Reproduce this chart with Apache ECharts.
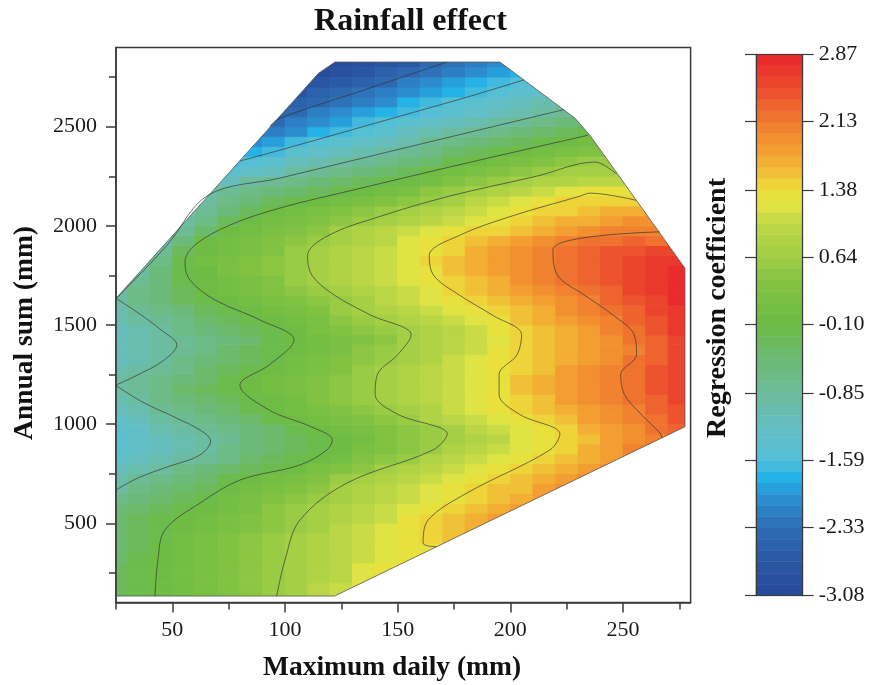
<!DOCTYPE html>
<html><head><meta charset="utf-8">
<script src="https://cdn.jsdelivr.net/npm/echarts@6/dist/echarts.min.js"></script>
<style>html,body{margin:0;padding:0;background:#fff}#c{width:871px;height:685px}</style>
</head><body><div id="c"></div>
<script>
// grid node centres (mm)
const xNodes = [25,35,45,55,65,75,85,95,105,115,125,135,145,155,165,175,185,195,205,215,225,235,245,255,265,275];
const yNodes = [125,175,225,275,325,375,425,475,525,575,625,675,725,775,825,875,925,975,1025,1075,1125,1175,1225,1275,1325,1375,1425,1475,1525,1575,1625,1675,1725,1775,1825,1875,1925,1975,2025,2075,2125,2175,2225,2275,2325,2375,2425,2475,2525,2575,2625,2675,2725,2775,2825];
// first xNode index of each row
const rowStart = [0,0,0,0,0,0,0,0,0,0,0,0,0,0,0,0,0,0,0,0,0,0,0,0,0,0,0,0,0,0,0,0,1,1,1,2,2,3,3,3,4,4,4,5,5,6,6,6,7,7,8,8,8,9,9];
// regression coefficient, one row per yNode
const fieldRows = [
[-0.34,-0.20,-0.06,0.07,0.21,0.35,0.48,0.62,0.76,0.90,1.03],
[-0.34,-0.20,-0.07,0.07,0.21,0.34,0.48,0.61,0.75,0.89,1.02,1.16],
[-0.35,-0.21,-0.07,0.06,0.20,0.34,0.48,0.60,0.74,0.88,1.01,1.15,1.29],
[-0.35,-0.21,-0.08,0.06,0.20,0.33,0.47,0.60,0.73,0.87,1.00,1.14,1.28,1.41],
[-0.36,-0.22,-0.08,0.05,0.18,0.32,0.45,0.58,0.71,0.84,0.97,1.10,1.23,1.35,1.45],
[-0.36,-0.23,-0.10,0.03,0.17,0.30,0.43,0.56,0.68,0.80,0.93,1.05,1.17,1.28,1.38,1.50],
[-0.37,-0.24,-0.11,0.02,0.15,0.27,0.40,0.53,0.66,0.78,0.91,1.04,1.17,1.29,1.42,1.55],
[-0.40,-0.26,-0.13,0.00,0.13,0.25,0.38,0.51,0.63,0.76,0.89,1.03,1.16,1.28,1.41,1.54,1.67],
[-0.47,-0.34,-0.21,-0.07,0.06,0.20,0.33,0.47,0.61,0.74,0.87,1.00,1.13,1.26,1.39,1.52,1.65,1.78],
[-0.58,-0.44,-0.29,-0.15,-0.01,0.12,0.26,0.40,0.53,0.67,0.79,0.92,1.05,1.18,1.30,1.43,1.56,1.69,1.81],
[-0.72,-0.57,-0.42,-0.26,-0.11,0.03,0.17,0.31,0.45,0.59,0.72,0.85,0.97,1.10,1.22,1.35,1.48,1.60,1.73,1.86],
[-0.87,-0.71,-0.55,-0.39,-0.24,-0.08,0.07,0.21,0.36,0.50,0.65,0.77,0.89,1.02,1.14,1.26,1.39,1.51,1.63,1.76,1.88],
[-0.99,-0.84,-0.68,-0.53,-0.37,-0.22,-0.06,0.09,0.24,0.38,0.53,0.67,0.79,0.91,1.04,1.16,1.28,1.40,1.53,1.65,1.77,1.89],
[-1.15,-1.00,-0.86,-0.72,-0.58,-0.45,-0.31,-0.17,-0.02,0.15,0.32,0.49,0.65,0.78,0.91,1.04,1.17,1.30,1.43,1.56,1.69,1.82,1.95],
[-1.31,-1.17,-1.03,-0.89,-0.75,-0.61,-0.47,-0.33,-0.18,-0.03,0.13,0.30,0.47,0.63,0.77,0.91,1.04,1.18,1.31,1.45,1.58,1.72,1.86,1.99],
[-1.40,-1.27,-1.13,-0.99,-0.85,-0.71,-0.57,-0.43,-0.29,-0.16,-0.01,0.15,0.31,0.47,0.62,0.77,0.91,1.05,1.20,1.34,1.50,1.67,1.84,2.01,2.18],
[-1.42,-1.28,-1.14,-1.00,-0.87,-0.73,-0.59,-0.45,-0.31,-0.18,-0.03,0.12,0.27,0.42,0.57,0.71,0.85,1.00,1.15,1.30,1.45,1.62,1.78,1.95,2.11,2.28],
[-1.37,-1.23,-1.09,-0.94,-0.80,-0.65,-0.51,-0.37,-0.22,-0.08,0.06,0.20,0.34,0.48,0.62,0.76,0.91,1.05,1.20,1.34,1.50,1.66,1.82,1.98,2.14,2.34],
[-1.27,-1.12,-0.97,-0.82,-0.67,-0.52,-0.37,-0.22,-0.07,0.07,0.21,0.35,0.49,0.63,0.77,0.91,1.05,1.19,1.33,1.47,1.62,1.76,1.91,2.05,2.22,2.42],
[-1.15,-0.98,-0.83,-0.67,-0.52,-0.37,-0.22,-0.07,0.07,0.20,0.34,0.47,0.61,0.74,0.88,1.02,1.15,1.29,1.42,1.56,1.70,1.84,1.98,2.11,2.30,2.48],
[-0.99,-0.85,-0.71,-0.56,-0.42,-0.28,-0.14,0.00,0.14,0.27,0.41,0.54,0.67,0.81,0.94,1.08,1.21,1.35,1.48,1.62,1.76,1.89,2.03,2.18,2.36,2.54],
[-0.89,-0.75,-0.61,-0.47,-0.33,-0.20,-0.06,0.07,0.19,0.32,0.45,0.58,0.71,0.84,0.98,1.11,1.25,1.38,1.52,1.65,1.79,1.92,2.06,2.22,2.40,2.58],
[-0.93,-0.79,-0.65,-0.50,-0.36,-0.22,-0.08,0.05,0.18,0.31,0.44,0.57,0.70,0.84,0.97,1.11,1.25,1.38,1.52,1.66,1.80,1.93,2.07,2.23,2.41,2.59],
[-1.06,-0.91,-0.76,-0.61,-0.47,-0.32,-0.17,-0.03,0.11,0.25,0.39,0.53,0.67,0.80,0.94,1.08,1.21,1.35,1.49,1.63,1.77,1.91,2.05,2.21,2.41,2.61],
[-1.18,-1.02,-0.87,-0.72,-0.57,-0.41,-0.26,-0.11,0.03,0.17,0.31,0.46,0.60,0.74,0.88,1.02,1.16,1.30,1.44,1.58,1.72,1.86,2.00,2.15,2.37,2.60],
[-1.22,-1.07,-0.92,-0.77,-0.62,-0.47,-0.32,-0.18,-0.03,0.11,0.26,0.40,0.55,0.69,0.83,0.97,1.12,1.26,1.40,1.54,1.69,1.83,1.98,2.12,2.35,2.59],
[-1.19,-1.05,-0.91,-0.78,-0.64,-0.50,-0.36,-0.22,-0.09,0.06,0.21,0.35,0.50,0.65,0.79,0.94,1.09,1.24,1.39,1.53,1.68,1.83,1.98,2.13,2.37,2.61],
[-1.14,-1.00,-0.85,-0.71,-0.56,-0.41,-0.27,-0.12,0.01,0.15,0.28,0.42,0.55,0.69,0.84,0.99,1.13,1.28,1.43,1.57,1.72,1.87,2.02,2.18,2.41,2.63],
[-1.06,-0.91,-0.76,-0.61,-0.46,-0.31,-0.16,-0.02,0.12,0.26,0.40,0.54,0.67,0.81,0.95,1.09,1.24,1.38,1.52,1.66,1.80,1.94,2.09,2.27,2.47,2.67],
[-0.98,-0.82,-0.65,-0.49,-0.33,-0.17,-0.02,0.12,0.25,0.39,0.52,0.65,0.79,0.93,1.06,1.20,1.33,1.47,1.61,1.75,1.89,2.03,2.18,2.36,2.54,2.72],
[-0.87,-0.70,-0.52,-0.35,-0.17,-0.02,0.11,0.24,0.37,0.50,0.63,0.76,0.90,1.03,1.16,1.30,1.43,1.57,1.71,1.84,1.98,2.12,2.27,2.44,2.60,2.76],
[-0.95,-0.72,-0.50,-0.28,-0.07,0.06,0.19,0.32,0.45,0.58,0.71,0.85,0.98,1.12,1.25,1.39,1.52,1.66,1.79,1.93,2.06,2.20,2.35,2.50,2.65,2.80],
[-0.80,-0.50,-0.19,-0.01,0.12,0.25,0.38,0.52,0.65,0.78,0.92,1.06,1.19,1.33,1.46,1.60,1.74,1.88,2.01,2.14,2.28,2.42,2.55,2.69,2.83],
[-0.95,-0.56,-0.16,0.01,0.15,0.28,0.42,0.55,0.69,0.82,0.96,1.10,1.23,1.37,1.51,1.64,1.78,1.92,2.05,2.19,2.32,2.45,2.58,2.71,2.84],
[-1.05,-0.68,-0.15,0.02,0.16,0.29,0.43,0.56,0.70,0.83,0.97,1.11,1.24,1.39,1.52,1.66,1.80,1.94,2.07,2.20,2.33,2.46,2.58,2.68,2.74],
[-0.83,-0.30,-0.01,0.12,0.26,0.39,0.53,0.66,0.80,0.94,1.08,1.21,1.35,1.50,1.64,1.79,1.93,2.07,2.20,2.31,2.41,2.49,2.54,2.56],
[-1.00,-0.55,-0.08,0.06,0.20,0.34,0.48,0.62,0.75,0.88,1.01,1.14,1.27,1.40,1.53,1.67,1.81,1.94,2.08,2.18,2.24,2.26,2.25,2.22],
[-0.79,-0.36,-0.04,0.10,0.23,0.37,0.51,0.65,0.77,0.90,1.02,1.15,1.28,1.40,1.50,1.61,1.71,1.82,1.92,2.02,2.08,2.10],
[-0.93,-0.61,-0.29,-0.05,0.08,0.22,0.35,0.48,0.61,0.74,0.87,1.00,1.13,1.25,1.38,1.47,1.56,1.64,1.73,1.81,1.88,1.93],
[-1.00,-0.77,-0.54,-0.31,-0.09,0.04,0.17,0.31,0.44,0.57,0.70,0.83,0.96,1.08,1.21,1.34,1.43,1.50,1.58,1.65,1.72,1.76],
[-0.85,-0.68,-0.52,-0.35,-0.18,-0.03,0.10,0.23,0.37,0.50,0.63,0.76,0.89,1.02,1.14,1.27,1.40,1.45,1.46,1.42],
[-0.97,-0.83,-0.69,-0.56,-0.42,-0.28,-0.15,-0.01,0.12,0.26,0.40,0.54,0.67,0.81,0.95,1.07,1.18,1.27,1.30,1.28],
[-1.25,-1.11,-0.96,-0.81,-0.67,-0.54,-0.40,-0.26,-0.13,0.01,0.14,0.28,0.41,0.55,0.68,0.79,0.88,0.95,0.99,1.00],
[-1.38,-1.25,-1.10,-0.93,-0.78,-0.65,-0.51,-0.37,-0.24,-0.10,0.03,0.17,0.30,0.43,0.57,0.67,0.72,0.70],
[-1.66,-1.51,-1.36,-1.21,-1.05,-0.90,-0.76,-0.63,-0.49,-0.36,-0.22,-0.09,0.05,0.19,0.33,0.47,0.58,0.60],
[-1.74,-1.60,-1.45,-1.31,-1.16,-1.02,-0.87,-0.74,-0.61,-0.47,-0.34,-0.21,-0.07,0.07,0.20,0.32,0.38],
[-2.05,-1.88,-1.70,-1.53,-1.40,-1.26,-1.12,-0.98,-0.84,-0.71,-0.58,-0.45,-0.32,-0.19,-0.06,0.06],
[-2.30,-2.14,-1.97,-1.79,-1.62,-1.48,-1.35,-1.22,-1.08,-0.95,-0.82,-0.69,-0.56,-0.43,-0.30,-0.18],
[-2.34,-2.18,-2.02,-1.86,-1.71,-1.56,-1.43,-1.30,-1.18,-1.05,-0.93,-0.80,-0.67,-0.55,-0.43],
[-2.49,-2.35,-2.20,-2.06,-1.92,-1.77,-1.63,-1.50,-1.38,-1.26,-1.14,-1.02,-0.90,-0.78],
[-2.54,-2.39,-2.25,-2.11,-1.98,-1.84,-1.70,-1.57,-1.45,-1.33,-1.21,-1.09,-0.97],
[-2.73,-2.58,-2.44,-2.30,-2.16,-2.03,-1.90,-1.76,-1.63,-1.50,-1.38,-1.26],
[-2.92,-2.77,-2.62,-2.48,-2.34,-2.20,-2.07,-1.94,-1.81,-1.68,-1.56,-1.44],
[-3.00,-2.86,-2.71,-2.56,-2.41,-2.26,-2.12,-1.99,-1.86,-1.74],
[-3.08,-3.04,-2.90,-2.75,-2.60,-2.44,-2.29,-2.15,-2.02]
];
// outline of the sampled domain (mm)
const hullPoints = [[25,133],[122,133],[277.5,987],[277.5,1786],[235.3,2457],[228.7,2543],[195.4,2826],[122.2,2826],[114.8,2769],[25,1634],[25,133]];
// contour lines (mm)
const contourA = [[93.3,2503],[97.8,2543],[135,2685],[171.9,2826]];
const contourB = [[80,2327],[97.8,2382],[150,2550],[181,2650],[206,2736]];
const contourC = [[223.7,2586],[160,2412],[97.8,2241],[65.8,2154],[47.5,1900],[27,1655],[25,1634]];
const contourC2 = [[25,1634],[35,1560],[45,1475],[52,1400],[46,1320],[34,1245],[25,1197]];
const contourC3 = [[25,1195],[37,1110],[52,1030],[63,965],[67,915],[62,843],[48,785],[35,730],[25,668]];
const contourD = [[234.5,2457],[180,2315],[130,2180],[97.8,2090],[75.6,2004],[60,1903],[55.6,1817],[57.8,1727],[69,1626],[89,1525],[104,1425],[93,1299],[80,1197],[93,1071],[112,985],[121,920],[118.6,870],[106.6,794],[80,718],[62.3,602],[46.7,466],[43.6,315],[42.3,133]];
const contourE = [[96.3,133],[100,315],[106.6,516],[127.5,703],[165.7,870],[172,950],[150,1050],[140,1150],[141,1250],[150,1350],[156,1450],[138,1550],[122,1650],[112,1750],[110,1850],[119,1950],[142.8,2050],[173,2150],[211.5,2250],[237.6,2322],[247,2262]];
const contourF = [[167.2,382],[161.3,400],[163.5,516],[180.8,653],[217.6,870],[222,950],[204,1050],[195,1150],[195,1250],[203,1350],[205,1450],[192,1550],[177.5,1650],[166,1750],[164,1850],[177,1950],[200.8,2050],[231,2150],[235.3,2165],[255.8,2129]];
const contourG = [[267.3,930],[266.4,955],[258,1050],[250.6,1150],[249,1250],[256,1350],[255,1450],[245.6,1550],[233,1650],[221,1750],[218.9,1878],[232.2,1939],[266.4,1970]];
// axis ticks
const xMajorTicks = [50,100,150,200,250];
const xMinorTicks = [25,75,125,175,225,275];
const yMajorTicks = [500,1000,1500,2000,2500];
const yMinorTicks = [250,750,1250,1750,2250,2750];
const barTicks = [-3.08,-2.33,-1.59,-0.85,-0.10,0.64,1.38,2.13,2.87];
const valueMin = -3.08, valueMax = 2.87, levelCount = 48;

// ---------- styling ----------
const SERIF = "'Times New Roman','Liberation Serif',serif";
const CELL_W = 10, CELL_H = 50;
const colorStops = [
 [-3.08,[38,74,154]],[-2.70,[43,87,163]],[-2.33,[46,108,180]],[-2.00,[44,143,208]],[-1.80,[32,176,232]],
 [-1.59,[82,191,216]],[-1.25,[100,191,198]],[-0.85,[109,187,156]],[-0.45,[108,186,112]],[-0.10,[108,187,69]],
 [0.30,[126,193,67]],[0.64,[160,205,68]],[1.00,[190,216,70]],[1.20,[224,228,68]],[1.38,[236,222,58]],
 [1.55,[240,195,54]],[1.80,[244,160,49]],[2.13,[240,122,46]],[2.50,[236,75,46]],[2.87,[232,37,42]]
];
function colorAt(v){
  for(let i=0;i<colorStops.length-1;i++){
    const a=colorStops[i], b=colorStops[i+1];
    if(v<=b[0]){const t=Math.max(0,Math.min(1,(v-a[0])/(b[0]-a[0])));
      return 'rgb('+a[1].map((ch,k)=>Math.round(ch+(b[1][k]-ch)*t)).join(',')+')';}
  }
  return 'rgb('+colorStops[colorStops.length-1][1].join(',')+')';
}
const step = (valueMax-valueMin)/levelCount;
const pieces = [], bandData = [];
for(let i=0;i<levelCount;i++){
  const lo=valueMin+i*step, hi=valueMin+(i+1)*step;
  const p={gte:lo-(i===0?1e-9:0), color:colorAt((lo+hi)/2)};
  if(i<levelCount-1) p.lt=hi; else p.lte=hi+1e-9;
  pieces.push(p);
  bandData.push([lo,hi,(lo+hi)/2]);
}
const cellData = [];
fieldRows.forEach((row,r)=>row.forEach((v,c)=>{ cellData.push([xNodes[rowStart[r]+c], yNodes[r], v]); }));

const chart = echarts.init(document.getElementById('c'));
const axisCol = '#3a3a3a';
const contourStyle = {color:'#333', width:0.8, opacity:0.85};
function contourSeries(pts){
  return {type:'line', xAxisIndex:0, yAxisIndex:0, data:pts, smooth:0.35, showSymbol:false, symbol:'none',
    lineStyle:contourStyle, z:4, silent:true};
}
chart.setOption({
  animation:false,
  backgroundColor:'#fff',
  grid:[
    {left:116, top:47.4, width:574.6, height:555.2, show:true, borderColor:axisCol, borderWidth:1.5, backgroundColor:'transparent'},
    {left:756, top:54.3, width:46.7, height:541.4}
  ],
  xAxis:[
    {gridIndex:0, type:'value', min:25, max:280, position:'bottom', z:6,
     axisLine:{show:true, onZero:false, lineStyle:{color:axisCol, width:1.5}},
     axisTick:{show:true, inside:false, length:10, customValues:xMajorTicks, lineStyle:{color:axisCol, width:1.5}},
     axisLabel:{show:true, customValues:xMajorTicks, margin:17, color:'#1a1a1a', fontFamily:SERIF, fontSize:22, formatter:v=>String(v)},
     splitLine:{show:false}},
    {gridIndex:0, type:'value', min:25, max:280, position:'bottom', z:6,
     axisLine:{show:false},
     axisTick:{show:true, inside:false, length:7, customValues:xMinorTicks, lineStyle:{color:axisCol, width:1.5}},
     axisLabel:{show:false}, splitLine:{show:false}},
    {gridIndex:1, type:'value', min:0, max:1, position:'top', z:6,
     axisLine:{show:true, onZero:false, lineStyle:{color:axisCol, width:1.2}}, axisTick:{show:false}, axisLabel:{show:false}, splitLine:{show:false}},
    {gridIndex:1, type:'value', min:0, max:1, position:'bottom', z:6,
     axisLine:{show:true, onZero:false, lineStyle:{color:axisCol, width:1.2}}, axisTick:{show:false}, axisLabel:{show:false}, splitLine:{show:false}}
  ],
  yAxis:[
    {gridIndex:0, type:'value', min:100, max:2900, position:'left', z:6,
     axisLine:{show:true, onZero:false, lineStyle:{color:axisCol, width:1.5}},
     axisTick:{show:true, inside:false, length:10, customValues:yMajorTicks, lineStyle:{color:axisCol, width:1.5}},
     axisLabel:{show:true, customValues:yMajorTicks, margin:19, color:'#1a1a1a', fontFamily:SERIF, fontSize:22, formatter:v=>String(v)},
     splitLine:{show:false}},
    {gridIndex:0, type:'value', min:100, max:2900, position:'left', z:6,
     axisLine:{show:false},
     axisTick:{show:true, inside:false, length:7, customValues:yMinorTicks, lineStyle:{color:axisCol, width:1.5}},
     axisLabel:{show:false}, splitLine:{show:false}},
    {gridIndex:1, type:'value', min:valueMin, max:valueMax, position:'left', z:6,
     axisLine:{show:true, onZero:false, lineStyle:{color:axisCol, width:1.2}},
     axisTick:{show:true, inside:false, length:11, customValues:barTicks, lineStyle:{color:axisCol, width:1.2}},
     axisLabel:{show:false}, splitLine:{show:false}},
    {gridIndex:1, type:'value', min:valueMin, max:valueMax, position:'right', z:6,
     axisLine:{show:true, onZero:false, lineStyle:{color:axisCol, width:1.2}},
     axisTick:{show:true, inside:false, length:11, customValues:barTicks, lineStyle:{color:axisCol, width:1.2}},
     axisLabel:{show:true, customValues:barTicks, margin:16, color:'#1a1a1a', fontFamily:SERIF, fontSize:22,
       formatter:v=>Number(v).toFixed(2)},
     splitLine:{show:false}}
  ],
  visualMap:{type:'piecewise', show:false, dimension:2, seriesIndex:[0,1], pieces:pieces},
  graphic:[
    {type:'text', x:410.5, y:22, style:{text:'Rainfall effect', font:'bold 32px '+SERIF, fill:'#111', textAlign:'center', textVerticalAlign:'middle'}},
    {type:'text', x:392, y:668, style:{text:'Maximum daily (mm)', font:'bold 27.5px '+SERIF, fill:'#111', textAlign:'center', textVerticalAlign:'middle'}},
    {type:'text', x:25, y:333, rotation:Math.PI/2, style:{text:'Annual sum (mm)', font:'bold 27.5px '+SERIF, fill:'#111', textAlign:'center', textVerticalAlign:'middle'}},
    {type:'text', x:718, y:308, rotation:Math.PI/2, style:{text:'Regression coefficient', font:'bold 28px '+SERIF, fill:'#111', textAlign:'center', textVerticalAlign:'middle'}}
  ],
  series:[
    {type:'custom', xAxisIndex:0, yAxisIndex:0, data:cellData, z:2, silent:true,
     renderItem:function(params, api){
       const x=api.value(0), y=api.value(1);
       const p0=api.coord([x-CELL_W/2, y+CELL_H/2]);
       const p1=api.coord([x+CELL_W/2, y-CELL_H/2]);
       const clip=hullPoints.map(p=>api.coord(p));
       const col=api.visual('color');
       return {type:'rect', shape:{x:p0[0], y:p0[1], width:p1[0]-p0[0], height:p1[1]-p0[1]},
         style:{fill:col, stroke:col, lineWidth:0.8},
         clipPath:{type:'polygon', shape:{points:clip}}};
     }},
    {type:'custom', xAxisIndex:3, yAxisIndex:2, data:bandData, z:2, silent:true,
     renderItem:function(params, api){
       const lo=api.value(0), hi=api.value(1);
       const p0=api.coord([0, hi]); const p1=api.coord([1, lo]);
       const col=api.visual('color');
       return {type:'rect', shape:{x:p0[0], y:p0[1], width:p1[0]-p0[0], height:p1[1]-p0[1]},
         style:{fill:col, stroke:col, lineWidth:0.6}};
     }},
    {type:'line', xAxisIndex:0, yAxisIndex:0, data:hullPoints, showSymbol:false, symbol:'none',
     lineStyle:{color:'#555', width:0.8}, z:4, silent:true},
    contourSeries(contourA), contourSeries(contourB), contourSeries(contourC), contourSeries(contourC2),
    contourSeries(contourC3), contourSeries(contourD), contourSeries(contourE), contourSeries(contourF),
    contourSeries(contourG)
  ]
});
</script></body></html>
